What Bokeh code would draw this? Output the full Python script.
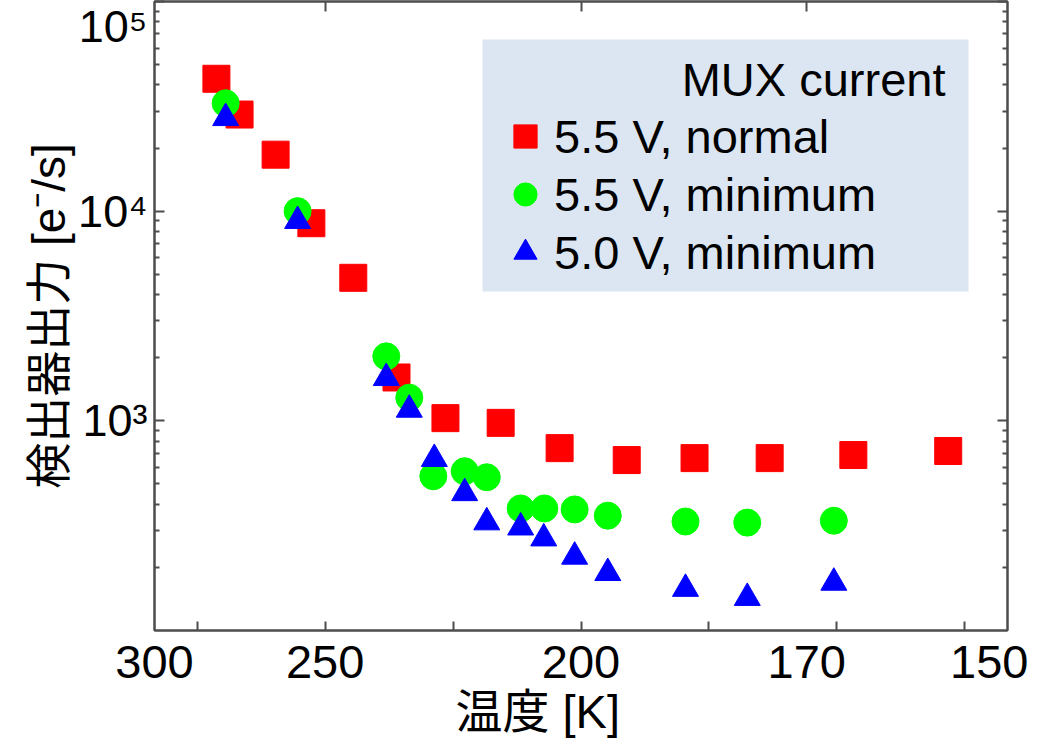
import numpy as np
from bokeh.plotting import figure
from bokeh.models import (FixedTicker, LogAxis, LinearAxis, CustomJSTickFormatter,
                          Legend, LegendItem, Label, Range1d, BoxAnnotation, Title)
from bokeh.embed import file_html
from bokeh.resources import INLINE

# ---- data (temperature in K, detector output in e-/s) ----
temp_55_normal = [279.7, 272.8, 262.7, 253.4, 243.3, 233.7, 223.7, 213.4, 203.4, 193.1,
                  183.7, 174.3, 164.9, 155.4]
out_55_normal = [42800, 28900, 18600, 8760, 4810, 1610, 1030, 978, 741, 650,
                 664, 664, 687, 718]

temp_55_min = [276.9, 256.9, 235.9, 231.0, 226.1, 220.0, 215.9, 209.9, 205.9, 201.0,
               195.9, 184.9, 177.0, 167.0]
out_55_min = [32700, 10000, 2030, 1290, 544, 575, 538, 382, 382, 378,
              353, 331, 327, 334]

temp_50_min = [276.9, 256.9, 235.9, 231.0, 225.9, 220.0, 215.9, 209.9, 206.0, 201.0,
               195.9, 184.9, 177.0, 167.0]
out_50_min = [27800, 8980, 1600, 1130, 658, 452, 328, 310, 275, 225,
              188, 158, 143, 169]

temp_ticks = [300, 250, 200, 170, 150]
top_temp_ticks = [250, 200, 170]
series_labels = ["5.5 V, normal", "5.5 V, minimum", "5.0 V, minimum"]
legend_title = "MUX current"
x_title = "温度 [K]"
y_title = "検出器出力 [e⁻/s]"

FONT = "'Liberation Sans', 'Noto Sans CJK JP', sans-serif"
AX = "#4d4d4d"

inv = lambda t: 1000.0 / np.asarray(t, dtype=float)

p = figure(width=1028, height=739, output_backend="svg", toolbar_location=None,
           y_axis_type="log",
           x_range=Range1d(1000.0 / 300, 1000.0 / 150),
           y_range=Range1d(100, 1e5),
           min_border_top=1, min_border_right=21, min_border_left=154,
           min_border_bottom=0)
p.grid.visible = False
p.background_fill_color = "white"
p.outline_line_color = AX
p.outline_line_width = 2
p.outline_line_alpha = 1

# legend background panel
p.add_layout(BoxAnnotation(left=328, right=814, bottom=339, top=591,
                           left_units="screen", right_units="screen",
                           bottom_units="screen", top_units="screen",
                           fill_color="#dce6f2", fill_alpha=1, line_color=None,
                           level="underlay"))

r1 = p.scatter(inv(temp_55_normal), out_55_normal, marker="square", size=27,
               fill_color="#ff0000", line_color="#ff0000")
r2 = p.scatter(inv(temp_55_min), out_55_min, marker="circle", size=27,
               fill_color="#00ff00", line_color="#00ff00")
r3 = p.scatter(inv(temp_50_min), out_50_min, marker="triangle", size=26,
               fill_color="#0000ff", line_color="#0000ff")

# y axis ticks (the top decade label is laid out from the top so it stays on the canvas)
y_major = [1e3, 1e4, 1e5]
y_minor = [m * 10.0 ** e for e in (2, 3, 4) for m in range(2, 10)]
y_fmt = CustomJSTickFormatter(code="""
const e = Math.round(Math.log10(tick));
const sup = {2: '\u00b2', 3: '\u00b3', 4: '\u2074', 5: '\u2075'};
const s = '10' + sup[e];
return e >= 5 ? s + '\\n' : s;
""")
yax = p.yaxis[0]
yax.ticker = FixedTicker(ticks=y_major, minor_ticks=y_minor)
yax.formatter = y_fmt
yax.major_tick_in = 10
yax.major_tick_out = 0
yax.minor_tick_in = 5
yax.minor_tick_out = 0
yax.axis_line_color = AX
yax.axis_line_width = 2
yax.major_tick_line_color = AX
yax.minor_tick_line_color = AX
yax.major_tick_line_width = 2
yax.minor_tick_line_width = 2
yax.major_label_text_font = FONT
yax.major_label_text_font_size = "45px"
yax.major_label_text_color = "black"
yax.major_label_text_line_height = 1.0
yax.major_label_standoff = 7
yax.axis_label = y_title
yax.axis_label_text_font = FONT
yax.axis_label_text_font_size = "46px"
yax.axis_label_text_font_style = "normal"
yax.axis_label_text_color = "black"
yax.axis_label_standoff = 0

# x axis: inverse temperature scale labelled in K
x_fmt = CustomJSTickFormatter(code="return (1000 / tick).toFixed(0);")
xax = p.xaxis[0]
xax.ticker = FixedTicker(ticks=[1000.0 / t for t in temp_ticks],
                         minor_ticks=list(np.arange(3.5, 6.6, 0.5)))
xax.formatter = x_fmt
xax.major_tick_in = 0
xax.major_tick_out = 0
xax.minor_tick_in = 9
xax.minor_tick_out = 0
xax.axis_line_color = AX
xax.axis_line_width = 2
xax.minor_tick_line_color = AX
xax.minor_tick_line_width = 2
xax.major_label_text_font = FONT
xax.major_label_text_font_size = "47px"
xax.major_label_text_color = "black"
xax.major_label_standoff = 15

p.add_layout(Title(text=x_title, align="left", offset=301, standoff=4,
                   text_font=FONT, text_font_size="47px", text_font_style="normal",
                   text_color="black"), "below")

blank = CustomJSTickFormatter(code="return '';")
top = LinearAxis(ticker=FixedTicker(ticks=[1000.0 / t for t in top_temp_ticks]),
                 formatter=blank, major_tick_in=10, major_tick_out=0,
                 minor_tick_in=0, minor_tick_out=0, axis_line_color=AX,
                 axis_line_width=2, major_tick_line_color=AX, major_tick_line_width=2,
                 major_label_text_font_size="0px", major_label_standoff=0)
p.add_layout(top, "above")
right = LogAxis(ticker=FixedTicker(ticks=y_major, minor_ticks=y_minor),
                formatter=blank, major_tick_in=10, major_tick_out=0,
                minor_tick_in=5, minor_tick_out=0, axis_line_color=AX,
                axis_line_width=2, major_tick_line_color=AX, major_tick_line_width=2,
                minor_tick_line_color=AX, minor_tick_line_width=2,
                major_label_text_font_size="0px", major_label_standoff=0)
p.add_layout(right, "right")

legend = Legend(items=[LegendItem(label=series_labels[0], renderers=[r1]),
                       LegendItem(label=series_labels[1], renderers=[r2]),
                       LegendItem(label=series_labels[2], renderers=[r3])],
                label_text_font=FONT, label_text_font_size="47px",
                label_text_color="black",
                glyph_width=58, glyph_height=58, spacing=0, label_standoff=0,
                padding=0, margin=0, background_fill_alpha=0,
                border_line_color=None, location=(342, 349))
p.add_layout(legend, "center")

# legend heading, right-aligned inside the panel
p.add_layout(Label(x=791, y=551, x_units="screen", y_units="screen",
                   text=legend_title, text_align="right", text_baseline="middle",
                   text_font=FONT, text_font_size="47px", text_color="black"))

open("out.html", "w").write(file_html(p, INLINE))
